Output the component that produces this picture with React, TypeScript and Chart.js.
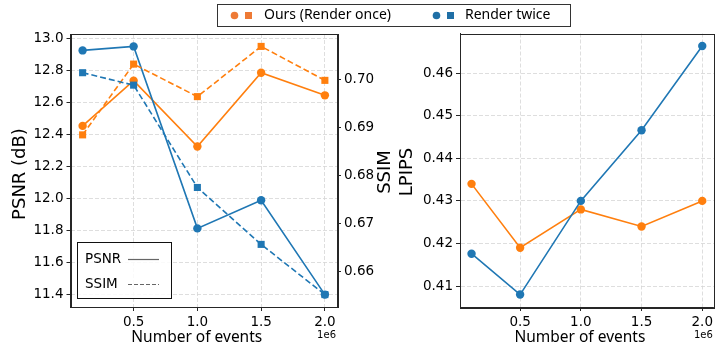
import React, { useEffect, useRef } from "react";
import { Chart, registerables } from "chart.js";

Chart.register(...registerables);

const events = [100000, 500000, 1000000, 1500000, 2000000];
const oursPSNR = [12.455, 12.738, 12.326, 12.787, 12.646];
const twicePSNR = [12.927, 12.952, 11.814, 11.99, 11.4];
const oursSSIM = [0.6885, 0.7033, 0.6965, 0.707, 0.6999];
const twiceSSIM = [0.7015, 0.6989, 0.6775, 0.6656, 0.6551];
const oursLPIPS = [0.434, 0.419, 0.428, 0.424, 0.43];
const twiceLPIPS = [0.4176, 0.408, 0.43, 0.4466, 0.4664];

const xTicks = [500000, 1000000, 1500000, 2000000];
const psnrTicks = [11.4, 11.6, 11.8, 12.0, 12.2, 12.4, 12.6, 12.8, 13.0];
const ssimTicks = [0.66, 0.67, 0.68, 0.69, 0.7];
const lpipsTicks = [0.41, 0.42, 0.43, 0.44, 0.45, 0.46];

const seriesLabels = ["Ours (Render once)", "Render twice"];
const metricLabels = ["PSNR", "SSIM"];

const ORANGE = "#ff7f0e";
const BLUE = "#1f77b4";
const GRID = "#d6d6d6";
const SPINE = "#262626";
const TICKFONT = { family: "DejaVu Sans", size: 13.5 };

function range(arrs: number[][]) {
  const all = arrs.flat();
  const mn = Math.min(...all);
  const mx = Math.max(...all);
  const m = (mx - mn) * 0.05;
  return [mn - m, mx + m];
}

function pts(ys: number[]) {
  return events.map((x, i) => ({ x, y: ys[i] }));
}

function setTicks(vals: number[]) {
  return (scale: any) => {
    scale.ticks = vals.map((v) => ({ value: v }));
  };
}

const gridOpts = {
  color: GRID,
  tickColor: SPINE,
  tickLength: 4,
  tickBorderDash: [],
  tickWidth: 1,
  lineWidth: 0.8,
};
const borderOpts = { display: true, color: SPINE, width: 1, dash: [4, 2] };

function xScale(height: number) {
  const xr = range([events]);
  return {
    type: "linear",
    position: "bottom",
    min: xr[0],
    max: xr[1],
    afterBuildTicks: setTicks(xTicks),
    afterFit: (s: any) => {
      s.height = height;
    },
    ticks: {
      font: TICKFONT,
      color: "#000",
      padding: 3,
      maxRotation: 0,
      autoSkip: false,
      callback: (v: number) => (v / 1e6).toFixed(1),
    },
    grid: gridOpts,
    border: borderOpts,
  };
}

function lineDs(ys: number[], color: string, dashed: boolean, square: boolean, axis: string) {
  return {
    data: pts(ys),
    yAxisID: axis,
    borderColor: color,
    backgroundColor: color,
    borderWidth: 1.6,
    borderDash: dashed ? [6, 3] : [],
    pointStyle: square ? "rect" : "circle",
    pointRadius: square ? 5 : 4.2,
    pointBorderWidth: 0,
    pointBackgroundColor: color,
    tension: 0,
    clip: false,
  };
}

const framePlugin = {
  id: "frame",
  afterDraw(chart: any) {
    const { ctx, chartArea: a } = chart;
    ctx.save();
    ctx.strokeStyle = SPINE;
    ctx.lineWidth = 1;
    ctx.setLineDash([]);
    ctx.strokeRect(Math.round(a.left) + 0.5, Math.round(a.top) + 0.5, Math.round(a.right - a.left), Math.round(a.bottom - a.top));
    ctx.restore();
  },
};

function drawCommonTitles(chart: any) {
  const { ctx, chartArea: a } = chart;
  ctx.save();
  ctx.fillStyle = "#000";
  ctx.font = "15.5px 'Noto Sans'";
  ctx.textAlign = "center";
  ctx.textBaseline = "middle";
  ctx.fillText("Number of events", (a.left + a.right) / 2 - 7, 338);
  ctx.font = "10px 'DejaVu Sans'";
  ctx.textAlign = "right";
  ctx.fillText("1e6", a.right - 1, 335);
  ctx.restore();
}

function vText(ctx: any, text: string, x: number, y: number) {
  ctx.save();
  ctx.translate(x, y);
  ctx.rotate(-Math.PI / 2);
  ctx.font = "18px 'DejaVu Sans'";
  ctx.fillStyle = "#000";
  ctx.textAlign = "center";
  ctx.textBaseline = "middle";
  ctx.fillText(text, 0, 0);
  ctx.restore();
}

const leftTitles = {
  id: "leftTitles",
  afterDraw(chart: any) {
    const { ctx } = chart;
    drawCommonTitles(chart);
    vText(ctx, "PSNR (dB)", 20, 174);
    vText(ctx, "SSIM", 385, 172);
    ctx.save();
    const bx = 77.5, by = 242.5, bw = 94, bh = 56;
    ctx.fillStyle = "rgba(255,255,255,0.85)";
    ctx.fillRect(bx, by, bw, bh);
    ctx.strokeStyle = "#111";
    ctx.lineWidth = 1;
    ctx.strokeRect(bx, by, bw, bh);
    ctx.font = "13.5px 'DejaVu Sans'";
    ctx.fillStyle = "#000";
    ctx.textAlign = "left";
    ctx.textBaseline = "middle";
    ctx.fillText(metricLabels[0], 85, 259);
    ctx.fillText(metricLabels[1], 85, 284);
    ctx.strokeStyle = "#666";
    ctx.lineWidth = 1.2;
    ctx.beginPath();
    ctx.moveTo(128, 259.5);
    ctx.lineTo(159, 259.5);
    ctx.stroke();
    ctx.setLineDash([4, 2]);
    ctx.beginPath();
    ctx.moveTo(128, 284.5);
    ctx.lineTo(159, 284.5);
    ctx.stroke();
    ctx.restore();
  },
};

const rightTitles = {
  id: "rightTitles",
  afterDraw(chart: any) {
    const { ctx } = chart;
    drawCommonTitles(chart);
    vText(ctx, "LPIPS", 407, 172);
    ctx.save();
    ctx.fillStyle = "#fff";
    ctx.fillRect(217.5, 4.5, 353, 22);
    ctx.strokeStyle = "#333";
    ctx.lineWidth = 1;
    ctx.strokeRect(217.5, 4.5, 353, 22);
    const items = [
      { c: "#ee7a35", cx: 234.5, tx: 264, t: seriesLabels[0] },
      { c: "#1f6fa6", cx: 436.5, tx: 465, t: seriesLabels[1] },
    ];
    ctx.font = "14px 'Noto Sans'";
    ctx.textAlign = "left";
    ctx.textBaseline = "middle";
    for (const it of items) {
      ctx.fillStyle = it.c;
      ctx.beginPath();
      ctx.arc(it.cx, 15.5, 3.8, 0, Math.PI * 2);
      ctx.fill();
      ctx.fillRect(it.cx + 10.5, 12, 7, 7);
      ctx.fillStyle = "#000";
      ctx.fillText(it.t, it.tx, 15.5);
    }
    ctx.restore();
  },
};

export default function App() {
  const leftRef = useRef<HTMLCanvasElement>(null);
  const rightRef = useRef<HTMLCanvasElement>(null);

  useEffect(() => {
    const pr = range([oursPSNR, twicePSNR]);
    const sr = range([oursSSIM, twiceSSIM]);
    const lr = range([oursLPIPS, twiceLPIPS]);

    const left = new Chart(leftRef.current as HTMLCanvasElement, {
      type: "line",
      data: {
        datasets: [
          lineDs(twiceSSIM, BLUE, true, true, "y1"),
          lineDs(oursSSIM, ORANGE, true, true, "y1"),
          lineDs(twicePSNR, BLUE, false, false, "y"),
          lineDs(oursPSNR, ORANGE, false, false, "y"),
        ] as any,
      },
      options: {
        responsive: false,
        animation: false,
        events: [],
        layout: { padding: { top: 34, left: 0, right: 0, bottom: 0 } },
        plugins: { legend: { display: false }, tooltip: { enabled: false } },
        scales: {
          x: xScale(50),
          y: {
            type: "linear",
            position: "left",
            min: pr[0],
            max: pr[1],
            afterBuildTicks: setTicks(psnrTicks),
            afterFit: (s: any) => {
              s.width = 70.5;
            },
            ticks: { font: TICKFONT, color: "#000", padding: 3, callback: (v: number) => v.toFixed(1) },
            grid: gridOpts,
            border: borderOpts,
          },
          y1: {
            type: "linear",
            position: "right",
            min: sr[0],
            max: sr[1],
            afterBuildTicks: setTicks(ssimTicks),
            afterFit: (s: any) => {
              s.width = 718 - 337;
            },
            ticks: { font: TICKFONT, color: "#000", padding: 3, callback: (v: number) => v.toFixed(2) },
            grid: { ...gridOpts, display: true, drawOnChartArea: false },
            border: { display: true, color: SPINE, width: 1 },
          },
        },
      } as any,
      plugins: [framePlugin, leftTitles],
    });

    const right = new Chart(rightRef.current as HTMLCanvasElement, {
      type: "line",
      data: {
        datasets: [
          lineDs(twiceLPIPS, BLUE, false, false, "y"),
          lineDs(oursLPIPS, ORANGE, false, false, "y"),
        ] as any,
      },
      options: {
        responsive: false,
        animation: false,
        events: [],
        layout: { padding: { top: 33.5, left: 0, right: 1.3, bottom: 0 } },
        plugins: { legend: { display: false }, tooltip: { enabled: false } },
        scales: {
          x: xScale(50),
          y: {
            type: "linear",
            position: "left",
            min: lr[0],
            max: lr[1],
            afterBuildTicks: setTicks(lpipsTicks),
            afterFit: (s: any) => {
              s.width = 460;
            },
            ticks: { font: TICKFONT, color: "#000", padding: 3, callback: (v: number) => v.toFixed(2) },
            grid: gridOpts,
            border: borderOpts,
          },
        },
      } as any,
      plugins: [framePlugin, rightTitles],
    });

    return () => {
      left.destroy();
      right.destroy();
    };
  }, []);

  const cs: React.CSSProperties = { position: "absolute", left: 0, top: 0, width: 718, height: 357 };
  return (
    <div style={{ position: "absolute", left: 0, top: 0, width: 718, height: 357, background: "#fff" }}>
      <canvas ref={leftRef} width={718} height={357} style={cs} />
      <canvas ref={rightRef} width={718} height={357} style={cs} />
    </div>
  );
}
